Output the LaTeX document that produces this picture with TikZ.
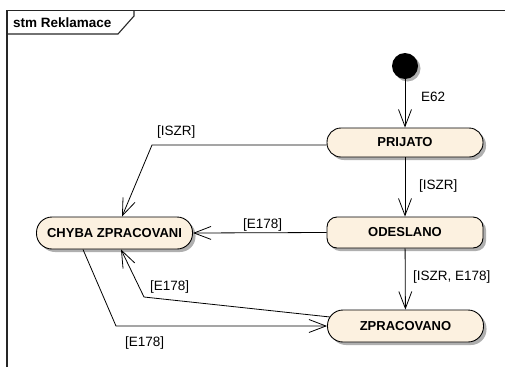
\documentclass[tikz,border=0pt]{standalone}
\usepackage{fontspec}
\setmainfont{Liberation Sans}
\usetikzlibrary{arrows.meta,positioning}
\definecolor{statefill}{RGB}{252,241,224}
\definecolor{shadowgray}{RGB}{175,175,175}
\tikzset{
  state/.style={draw=black, line width=0.9pt, fill=statefill, inner sep=0pt,
    minimum width=156pt, font=\fontsize{13}{15}\selectfont\bfseries,
    preaction={draw=none, fill=shadowgray, transform canvas={shift={(3pt,-3pt)}}}},
  stadium/.style={state, minimum height=#1, rounded corners=#1/2-0.5pt},
  trans/.style={draw=black, line width=0.8pt, -{Straight Barb[length=17pt,width=13pt,line width=0.8pt]}},
  lbl/.style={font=\fontsize{13.5}{15}\selectfont, inner sep=0pt},
  frameline/.style={draw=black!85, line width=1.1pt}
}
\begin{document}
\begin{tikzpicture}[x=1pt,y=-1pt]
\useasboundingbox (0,0) rectangle (505,367);
% frame
\draw[frameline] (7,367) -- (7,10.5) -- (505,10.5);
\draw[frameline] (134,10.5) -- (134,16) -- (118,34) -- (7,34);
\node[lbl, font=\fontsize{13.5}{15}\selectfont\bfseries, anchor=west] (title) at (13,23) {stm Reklamace};
% initial
\fill[shadowgray] (407.5,68.5) circle (13);
\node[circle, fill=black, minimum size=26pt, inner sep=0pt] (init) at (405,66) {};
% states
\node[stadium=29pt] (prijato) at (405,142.5) {PRIJATO};
\node[state, minimum height=31pt, rounded corners=10pt] (odeslano) at (405,232.5) {ODESLANO};
\node[stadium=32pt] (zprac) at (405.5,326) {ZPRACOVANO};
\node[stadium=32pt] (chyba) at (114.5,233) {CHYBA ZPRACOVANI};
% transitions
\draw[trans] (init) -- (prijato);
\node[lbl, anchor=west] (le62) at (421,97) {E62};
\draw[trans] (prijato) -- (odeslano);
\node[lbl, anchor=west] (liszr1) at (419,186) {[ISZR]};
\coordinate (c1) at (152,145);
\draw[trans] ([yshift=-2.5pt]prijato.west) -- (c1) -- ([xshift=7.5pt]chyba.north);
\node[lbl, anchor=west] (liszr2) at (157,132) {[ISZR]};
\draw[trans] (odeslano.west) -- (chyba.east);
\node[lbl, anchor=west] (le1) at (243,225) {[E178]};
\draw[trans] (odeslano) -- (zprac);
\node[lbl, anchor=west] (le2) at (413,277) {[ISZR, E178]};
\coordinate (c2) at (144,297);
\draw[trans] ([shift={(3,-9)}]zprac.west) -- (c2) -- ([xshift=6.5pt]chyba.south);
\node[lbl, anchor=west] (le3) at (150,287) {[E178]};
\coordinate (c3) at (116,326);
\draw[trans] ([xshift=-31.5pt]chyba.south) -- (c3) -- (zprac.west);
\node[lbl, anchor=west] (le4) at (125,343) {[E178]};
\end{tikzpicture}
\end{document}
